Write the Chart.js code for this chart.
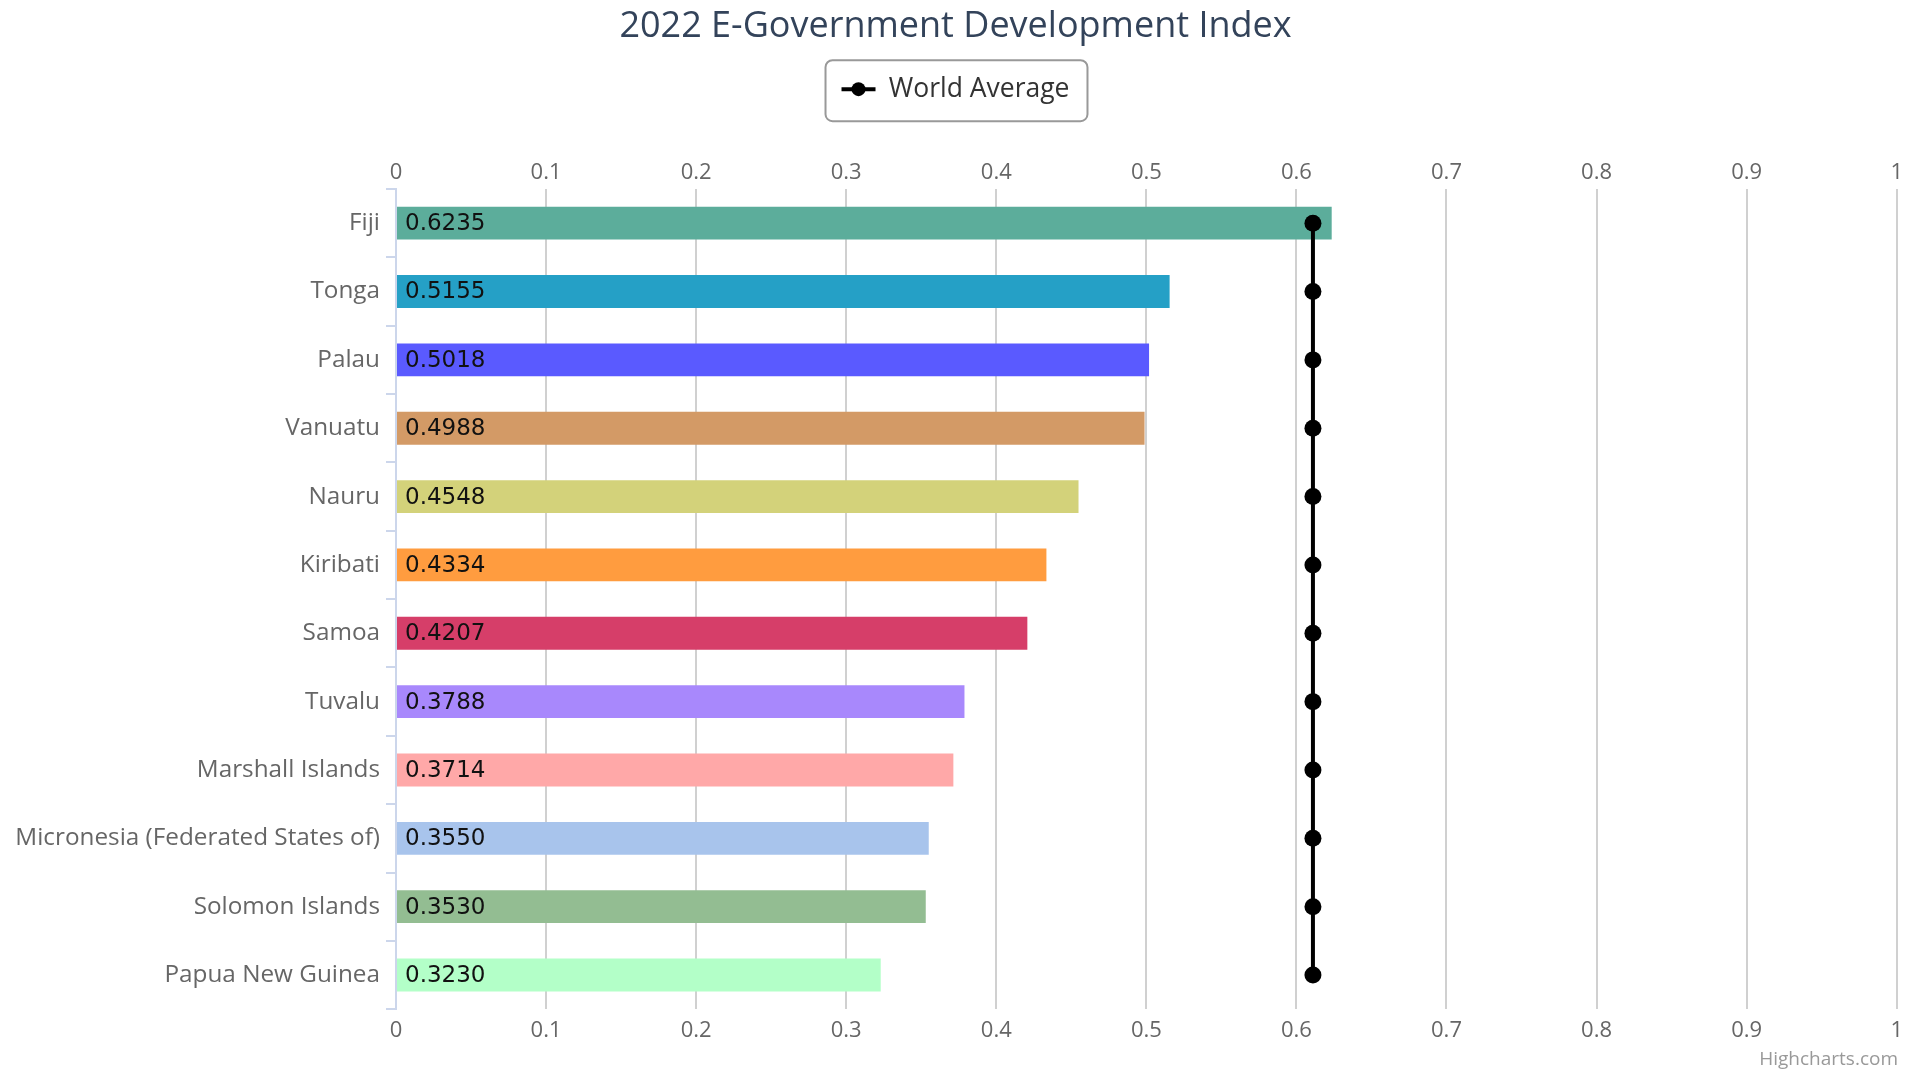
<!DOCTYPE html>
<html><head><meta charset="utf-8">
<script src="https://cdn.jsdelivr.net/npm/chart.js@4.4.1/dist/chart.umd.min.js"></script>
<style>html,body{margin:0;padding:0;background:#fff;}canvas{display:block;}</style>
</head><body>
<canvas id="c" width="1911" height="1072"></canvas>
<script>
const countries = ['Fiji','Tonga','Palau','Vanuatu','Nauru','Kiribati','Samoa','Tuvalu','Marshall Islands','Micronesia (Federated States of)','Solomon Islands','Papua New Guinea'];
const egdiValues = [0.6235,0.5155,0.5018,0.4988,0.4548,0.4334,0.4207,0.3788,0.3714,0.3550,0.3530,0.3230];
const worldAverage = [0.611,0.611,0.611,0.611,0.611,0.611,0.611,0.611,0.611,0.611,0.611,0.611];
const barColors = ['#5cad9b','#25a0c6','#5a5aff','#d39a66','#d3d27a','#ff9c3f','#d63e69','#a888fc','#ffa8a8','#a8c4ec','#93bd92','#b3ffc8'];
const xTickLabels = ['0','0.1','0.2','0.3','0.4','0.5','0.6','0.7','0.8','0.9','1'];
const titleText = '2022 E-Government Development Index';
const legendText = 'World Average';
const creditText = 'Highcharts.com';

const FONT = "'Open Sans', sans-serif";

const dataLabelPlugin = {
  id: 'dataLabels',
  afterDatasetsDraw(chart) {
    const meta = chart.getDatasetMeta(0);
    const ctx = chart.ctx;
    ctx.save();
    ctx.font = "23px 'DejaVu Sans'";
    ctx.fillStyle = '#111';
    ctx.textAlign = 'left';
    ctx.textBaseline = 'middle';
    meta.data.forEach((el, i) => {
      ctx.fillText(egdiValues[i].toFixed(4), el.base + 8, el.y + 1);
    });
    ctx.restore();
  }
};

const legendBoxPlugin = {
  id: 'legendBox',
  afterDraw(chart) {
    const lg = chart.legend;
    if (!lg || !lg.legendHitBoxes || !lg.legendHitBoxes.length) return;
    const hb = lg.legendHitBoxes[0];
    const ctx = chart.ctx;
    const cy = hb.top + hb.height / 2;
    ctx.save();
    ctx.strokeStyle = '#999';
    ctx.lineWidth = 2;
    ctx.beginPath();
    const l = hb.left - 16, r = hb.left + hb.width + 18, t = cy - 29, b = cy + 32;
    ctx.roundRect(l, t, r - l, b - t, 7);
    ctx.stroke();
    ctx.strokeStyle = '#000';
    ctx.lineWidth = 4;
    ctx.beginPath();
    ctx.moveTo(hb.left, cy);
    ctx.lineTo(hb.left + 34, cy);
    ctx.stroke();
    ctx.fillStyle = '#000';
    ctx.beginPath();
    ctx.arc(hb.left + 17, cy, 7, 0, Math.PI * 2);
    ctx.fill();
    ctx.restore();
  }
};

new Chart(document.getElementById('c'), {
  data: {
    labels: countries,
    datasets: [
      {
        type: 'bar',
        label: 'EGDI',
        data: egdiValues,
        backgroundColor: barColors,
        borderWidth: 0,
        barPercentage: 0.48,
        categoryPercentage: 1.0,
        xAxisID: 'x',
        yAxisID: 'y',
        order: 2
      },
      {
        type: 'line',
        label: legendText,
        data: worldAverage,
        indexAxis: 'y',
        borderColor: '#000',
        backgroundColor: '#000',
        borderWidth: 4,
        pointRadius: 8.5,
        pointBackgroundColor: '#000',
        pointBorderWidth: 0,
        fill: false,
        tension: 0,
        xAxisID: 'x',
        yAxisID: 'y',
        order: 0
      }
    ]
  },
  options: {
    indexAxis: 'y',
    responsive: false,
    animation: false,
    devicePixelRatio: 1,
    layout: { padding: { left: 13, right: 13, top: 0, bottom: 0 } },
    plugins: {
      title: {
        display: true,
        text: titleText,
        color: '#33435a',
        font: { family: FONT, size: 36, weight: 'normal' },
        padding: { top: 5.5, bottom: 17.2 }
      },
      subtitle: {
        display: true,
        text: creditText,
        position: 'bottom',
        align: 'end',
        color: '#999',
        font: { family: FONT, size: 19, weight: 'normal' },
        padding: { top: 5, bottom: 1 }
      },
      legend: {
        display: true,
        position: 'top',
        labels: {
          usePointStyle: true,
          pointStyleWidth: 34,
          padding: 10,
          color: '#333',
          font: { family: FONT, size: 26.5 },
          generateLabels: () => [{
            text: legendText,
            fillStyle: 'rgba(0,0,0,0)',
            strokeStyle: 'rgba(0,0,0,0)',
            lineWidth: 0,
            pointStyle: 'line',
            datasetIndex: 1,
            fontColor: '#333'
          }]
        }
      },
      tooltip: { enabled: false }
    },
    scales: {
      x: {
        type: 'linear',
        position: 'bottom',
        min: 0, max: 1,
        afterFit(s) { s.height = 34; },
        ticks: {
          stepSize: 0.1,
          color: '#666',
          font: { family: FONT, size: 22 },
          padding: 8,
          callback: (v, i) => xTickLabels[i]
        },
        grid: {
          drawTicks: false,
          lineWidth: 2,
          color: (c) => (c.tick && c.tick.value === 0) ? 'rgba(0,0,0,0)' : '#d0d0d0'
        },
        border: { display: false }
      },
      x2: {
        type: 'linear',
        position: 'top',
        min: 0, max: 1,
        afterFit(s) { s.height = 76.6; },
        ticks: {
          stepSize: 0.1,
          color: '#666',
          font: { family: FONT, size: 22 },
          padding: 3,
          callback: (v, i) => xTickLabels[i]
        },
        grid: { display: false, drawTicks: false },
        border: { display: false }
      },
      y: {
        type: 'category',
        position: 'left',
        afterFit(s) { s.width = 383; },
        ticks: {
          color: '#666',
          font: { family: FONT, size: 24.3 },
          padding: 6
        },
        grid: {
          offset: true,
          drawOnChartArea: false,
          drawTicks: true,
          tickLength: 10,
          lineWidth: 2,
          color: '#ccd6eb'
        },
        border: { display: true, color: '#ccd6eb', width: 2 }
      }
    }
  },
  plugins: [dataLabelPlugin, legendBoxPlugin]
});
</script>
</body></html>
